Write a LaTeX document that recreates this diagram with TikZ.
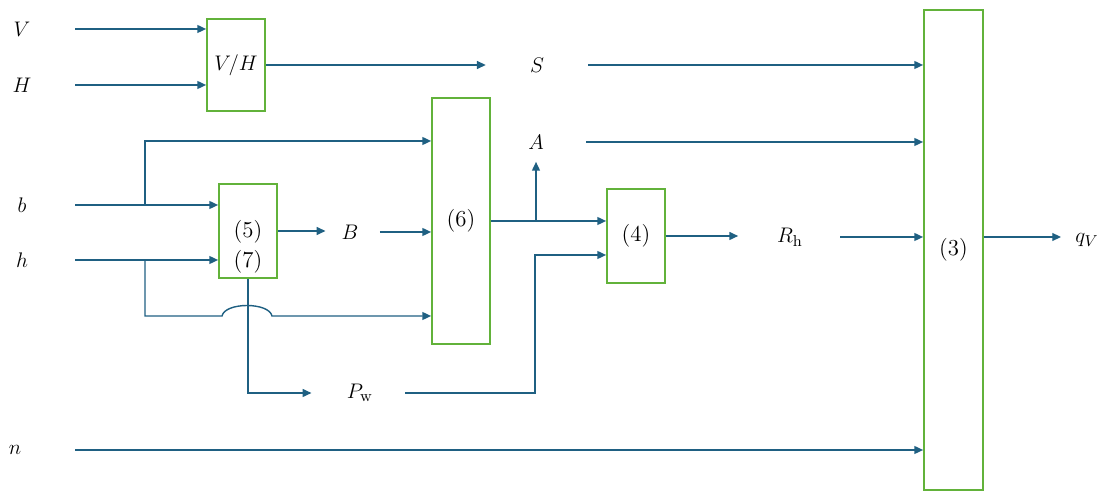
\documentclass[tikz,border=0pt]{standalone}
\usepackage{tikz}
\usetikzlibrary{positioning,arrows.meta,calc}
\definecolor{sigblue}{RGB}{31,96,130}
\definecolor{boxgreen}{RGB}{98,178,58}

\begin{document}
\begin{tikzpicture}[x=0.02cm, y=-0.02cm,
    every node/.style={font=\fontsize{13}{15}\selectfont},
    blk/.style={draw=boxgreen, line width=1pt, minimum width=1.16cm, inner sep=0pt},
    var/.style={inner sep=0pt},
    wire/.style={draw=sigblue, line width=0.8pt},
    sig/.style={wire, -{Triangle[length=5pt,width=4.5pt]}}]
  \useasboundingbox (0,0) rectangle (1106,499);
  % Blocks
  \node[blk, minimum height=1.84cm] (vh) at (236,65) {$V/H$};
  \node[blk, minimum height=1.88cm] (b57) at (248,231) {};
  \node[align=center, font=\fontsize{13}{17}\selectfont] (t57) at (248,247) {(5)\\(7)};
  \node[blk, minimum height=4.92cm] (b6) at (461,221) {(6)};
  \node[blk, minimum height=1.88cm] (b4) at (636,236) {(4)};
  \node[blk, minimum width=1.18cm, minimum height=9.6cm] (b3) at (953.5,250) {(3)};
  % Variables
  \node[var] (V) at (22,29) {$V$};
  \node[var] (H) at (22,85) {$H$};
  \node[var] (b) at (22,205) {$b$};
  \node[var] (h) at (22,260) {$h$};
  \node[var] (n) at (15,450) {$n$};
  \node[var] (S) at (537,65) {$S$};
  \node[var] (A) at (536,142) {$A$};
  \node[var] (B) at (350,232) {$B$};
  \node[var] (Pw) at (360,393) {$P_\mathrm{w}$};
  \node[var] (Rh) at (790,237) {$R_\mathrm{h}$};
  \node[var] (qV) at (1087,240) {$q_V$};
  % Inputs
  \coordinate (vin) at (75,29);
  \coordinate (hin) at (75,85);
  \coordinate (bin) at (75,205);
  \coordinate (hhin) at (75,260);
  \coordinate (nin) at (75,450);
  \coordinate (bsplit) at (145,205);
  \coordinate (hsplit) at (145,260);
  \coordinate (pwk) at (535,255);
  \draw[sig] (vin) -- (vin -| vh.west);
  \draw[sig] (hin) -- (hin -| vh.west);
  \draw[sig] (bin) -- (bin -| b57.west);
  \draw[sig] (hhin) -- (hhin -| b57.west);
  \draw[sig] (nin) -- (nin -| b3.west);
  \draw[sig] (bsplit) |- ($(b6.west)+(0,-80)$);
  \draw[sig] (hsplit) |- (222,316) .. controls (225,302) and (269,302) .. (272,316)
    -- ($(b6.west)+(0,95)$);
  % Signals
  \draw[sig, shorten >=25pt] (vh.east) -- (S.west |- vh.east);
  \draw[sig, shorten <=25pt] (S.east) -- (S.east -| b3.west);
  \draw[sig, shorten >=9pt] (b57.east) -- (B.west |- b57.east);
  \draw[sig, shorten <=12pt] (B.east) -- (B.east -| b6.west);
  \draw[sig, shorten >=20pt] (b57.south) |- (Pw.west);
  \draw[sig, shorten <=18pt] (Pw.east) -| (pwk) -- (pwk -| b4.west);
  \draw[sig] (b6.east) -- (b6.east -| b4.west);
  \draw[sig, shorten >=7pt] (b6.east -| A) -- (A.south);
  \draw[sig, shorten <=24pt] (A.east) -- (A.east -| b3.west);
  \draw[sig, shorten >=22pt] (b4.east) -- (Rh.west |- b4.east);
  \draw[sig, shorten <=21pt] (Rh.east) -- (Rh.east -| b3.west);
  \draw[sig, shorten >=8pt] ($(b3.east)+(0,-13)$) -- (qV.west |- 0,237);
\end{tikzpicture}
\end{document}
